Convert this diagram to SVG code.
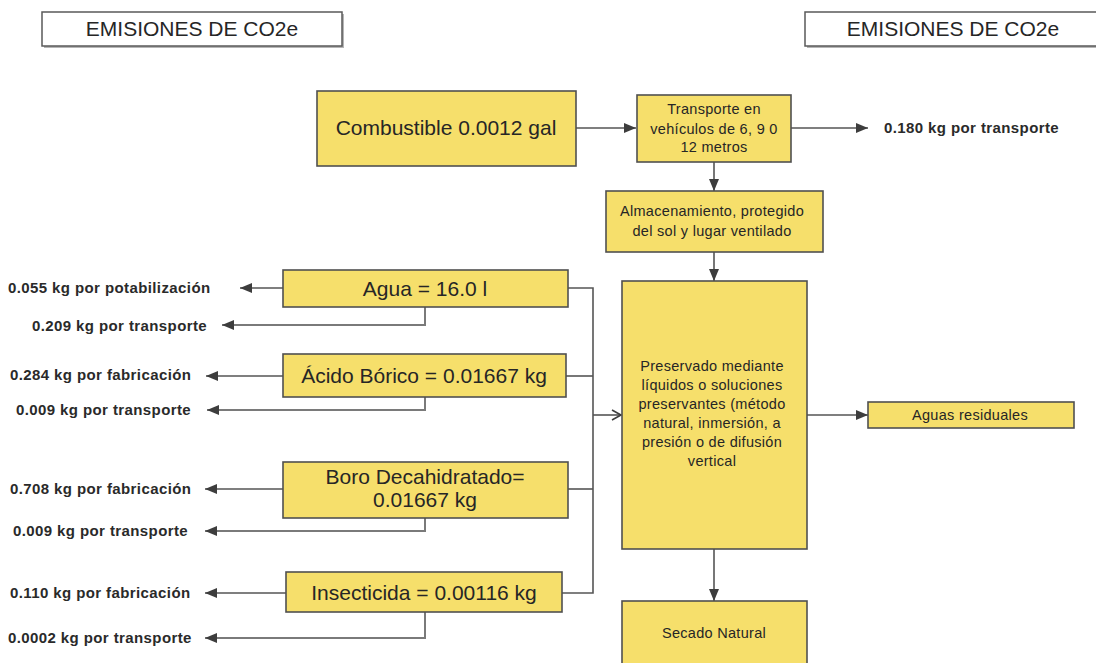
<svg xmlns="http://www.w3.org/2000/svg" width="1096" height="663" viewBox="0 0 1096 663">
  <defs>
    <marker id="tri" markerUnits="userSpaceOnUse" markerWidth="14" markerHeight="12" refX="12" refY="6" orient="auto">
      <path d="M0,1 L12,6 L0,11 Z" fill="#3d3d3d"/>
    </marker>
    <marker id="open" markerUnits="userSpaceOnUse" markerWidth="12" markerHeight="12" refX="10" refY="6" orient="auto">
      <path d="M1,1 L10,6 L1,11" fill="none" stroke="#3d3d3d" stroke-width="1.6"/>
    </marker>
  </defs>
  <style>
    .hdr { fill: #ffffff; stroke: #5a5a5a; stroke-width: 1.5; }
    .shd { fill: #b5b5b5; }
    .box { fill: #f6df6b; stroke: #505050; stroke-width: 1.6; }
    .big { font-family: "Liberation Sans", Arial, sans-serif; font-size: 21px; fill: #262626; text-anchor: middle; }
    .mid { font-family: "Liberation Sans", Arial, sans-serif; font-size: 14.5px; fill: #262626; text-anchor: middle; letter-spacing: 0.3px; }
    .lbl { font-family: "Liberation Sans", Arial, sans-serif; font-size: 15px; font-weight: bold; fill: #2a2a2a; letter-spacing: 0.4px; }
    .ln { fill: none; stroke: #555555; stroke-width: 1.6; }
    .arr { marker-end: url(#tri); }
    .lt { stroke: #7a7a7a; stroke-width: 2; }
  </style>

  <!-- headers -->
  <g id="header-left">
    <rect class="shd" x="44" y="14" width="300" height="34"/>
    <rect class="hdr" x="42" y="12" width="300" height="34"/>
    <text class="big" x="192" y="36">EMISIONES DE CO2e</text>
  </g>
  <g id="header-right">
    <rect class="shd" x="807" y="14" width="300" height="34"/>
    <rect class="hdr" x="805" y="12" width="300" height="34"/>
    <text class="big" x="953" y="36">EMISIONES DE CO2e</text>
  </g>

  <!-- connectors -->
  <g id="connectors">
    <line class="ln arr" x1="576" y1="128" x2="636" y2="128"/>
    <line class="ln arr" x1="791" y1="128" x2="868" y2="128"/>
    <line class="ln arr" x1="714" y1="162" x2="714" y2="191"/>
    <line class="ln arr" x1="714" y1="252" x2="714" y2="281"/>
    <line class="ln arr" x1="714" y1="549" x2="714" y2="601"/>
    <line class="ln arr" x1="807" y1="415" x2="868" y2="415"/>

    <!-- inputs gathered on a common bus -->
    <polyline class="ln" points="568,288 593,288 593,593 562,593"/>
    <line class="ln" x1="566" y1="376" x2="593" y2="376"/>
    <line class="ln" x1="568" y1="489" x2="593" y2="489"/>
    <line class="ln" x1="593" y1="415" x2="621" y2="415" marker-end="url(#open)"/>

    <!-- emissions per input -->
    <line class="ln arr" x1="283" y1="288" x2="240" y2="288"/>
    <polyline class="ln lt arr" points="425,307 425,325 222,325"/>
    <line class="ln arr" x1="283" y1="376" x2="206" y2="376"/>
    <polyline class="ln lt arr" points="425,397 425,410 207,410"/>
    <line class="ln arr" x1="283" y1="489" x2="205" y2="489"/>
    <polyline class="ln lt arr" points="425,518 425,531 205,531"/>
    <line class="ln arr" x1="286" y1="593" x2="205" y2="593"/>
    <polyline class="ln lt arr" points="425,612 425,638 205,638"/>
  </g>

  <!-- process nodes -->
  <g id="combustible">
    <rect class="box" x="317" y="91" width="259" height="75"/>
    <text class="big" x="446" y="135">Combustible 0.0012 gal</text>
  </g>
  <g id="transporte">
    <rect class="box" x="637" y="95" width="154" height="67"/>
    <text class="mid" x="714" y="114">Transporte en</text>
    <text class="mid" x="714" y="134">vehículos de 6, 9 0</text>
    <text class="mid" x="714" y="152">12 metros</text>
  </g>
  <g id="almacenamiento">
    <rect class="box" x="606" y="191" width="217" height="61"/>
    <text class="mid" x="712" y="216">Almacenamiento, protegido</text>
    <text class="mid" x="712" y="236">del sol y lugar ventilado</text>
  </g>
  <g id="preservado">
    <rect class="box" x="622" y="281" width="185" height="268"/>
    <text class="mid" x="712" y="371">Preservado mediante</text>
    <text class="mid" x="712" y="390">líquidos o soluciones</text>
    <text class="mid" x="712" y="409">preservantes (método</text>
    <text class="mid" x="712" y="428">natural, inmersión, a</text>
    <text class="mid" x="712" y="447">presión o de difusión</text>
    <text class="mid" x="712" y="466">vertical</text>
  </g>
  <g id="aguas-residuales">
    <rect class="box" x="868" y="402" width="206" height="26"/>
    <text class="mid" x="970" y="420">Aguas residuales</text>
  </g>
  <g id="secado">
    <rect class="box" x="622" y="601" width="185" height="70"/>
    <text class="mid" x="714" y="638">Secado Natural</text>
  </g>

  <!-- input nodes -->
  <g id="agua">
    <rect class="box" x="283" y="270" width="285" height="37"/>
    <text class="big" x="425" y="296">Agua = 16.0 l</text>
  </g>
  <g id="acido-borico">
    <rect class="box" x="283" y="354" width="283" height="43"/>
    <text class="big" x="424" y="383">Ácido Bórico = 0.01667 kg</text>
  </g>
  <g id="boro-decahidratado">
    <rect class="box" x="283" y="462" width="285" height="56"/>
    <text class="big" x="425" y="484">Boro Decahidratado=</text>
    <text class="big" x="425" y="507">0.01667 kg</text>
  </g>
  <g id="insecticida">
    <rect class="box" x="286" y="572" width="276" height="40"/>
    <text class="big" x="424" y="600">Insecticida = 0.00116 kg</text>
  </g>

  <!-- emission labels -->
  <g id="labels">
    <text class="lbl" x="884" y="133">0.180 kg por transporte</text>
    <text class="lbl" x="8" y="293">0.055 kg por potabilización</text>
    <text class="lbl" x="32" y="331">0.209 kg por transporte</text>
    <text class="lbl" x="10" y="380">0.284 kg por fabricación</text>
    <text class="lbl" x="16" y="415">0.009 kg por transporte</text>
    <text class="lbl" x="10" y="494">0.708 kg por fabricación</text>
    <text class="lbl" x="13" y="536">0.009 kg por transporte</text>
    <text class="lbl" x="10" y="598">0.110 kg por fabricación</text>
    <text class="lbl" x="8" y="643">0.0002 kg por transporte</text>
  </g>
</svg>
